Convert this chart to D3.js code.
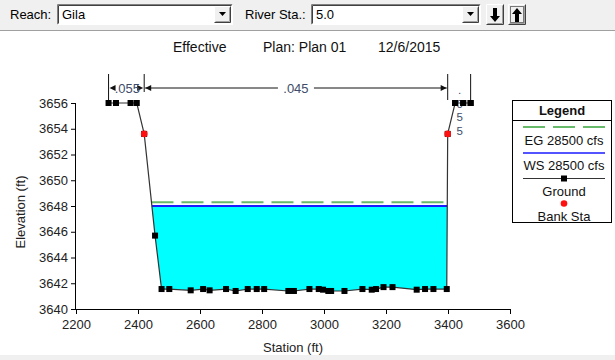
<!DOCTYPE html>
<html><head><meta charset="utf-8">
<script src="https://cdn.jsdelivr.net/npm/d3@7"></script>
<style>
body{margin:0;background:#fff;}
svg{display:block;font-family:"Liberation Sans",Arial,sans-serif;}
</style>
</head><body>
<svg id="c" width="615" height="360"></svg>
<script>
// Cross-section ground survey (station ft, elevation ft)
const groundSta = [2305, 2329, 2376, 2396, 2420, 2455, 2476, 2501, 2570, 2610, 2631, 2684, 2715, 2754, 2783, 2807,
  2885, 2903, 2953, 2983, 2997, 3014, 3023, 3066, 3124, 3154, 3168, 3192, 3221, 3299, 3326, 3353, 3396, 3399, 3423, 3449, 3473];
const groundElev = [3656, 3656, 3656, 3656, 3653.6, 3645.7, 3641.55, 3641.55, 3641.45, 3641.55, 3641.45, 3641.55, 3641.4, 3641.55, 3641.55, 3641.55,
  3641.4, 3641.4, 3641.55, 3641.55, 3641.5, 3641.4, 3641.4, 3641.4, 3641.55, 3641.5, 3641.55, 3641.7, 3641.7, 3641.5, 3641.55, 3641.55, 3641.55, 3653.6, 3656, 3656, 3656];
const bankSta = [2420, 3399];
const bankElev = [3653.6, 3653.6];
const wsElev = 3648.0;
const egElev = 3648.3;
const nBreaks = [2305, 2420, 3399, 3473];
const nValues = [".055", ".045", ".055"];
const xTicks = d3.range(2200, 3601, 200);
const xMinor = d3.range(2200, 3601, 50);
const yTicks = d3.range(3640, 3657, 2);
const yMinor = d3.range(3640, 3656.01, 0.5);
const legendLabels = ["EG 28500 cfs", "WS 28500 cfs", "Ground", "Bank Sta"];
const titleParts = ["Effective", "Plan: Plan 01", "12/6/2015"];

const svg = d3.select("#c");
const x = d3.scaleLinear().domain([2200, 3600]).range([76, 510]);
const y = d3.scaleLinear().domain([3640, 3656]).range([309, 103]);

// ---------- window chrome / toolbar ----------
svg.append("rect").attr("x", 0).attr("y", 0).attr("width", 615).attr("height", 30).attr("fill", "#f0f0f0");
svg.append("line").attr("x1", 0).attr("x2", 615).attr("y1", 30.5).attr("y2", 30.5).attr("stroke", "#a0a0a0");
svg.append("rect").attr("x", 0).attr("y", 355).attr("width", 615).attr("height", 5).attr("fill", "#f0f0f0");

function button(bx, by, bw, bh) {
  svg.append("rect").attr("x", bx).attr("y", by).attr("width", bw).attr("height", bh).attr("fill", "#f0f0f0");
  svg.append("path").attr("d", `M${bx + 0.5},${by + bh - 0.5}V${by + 0.5}H${bx + bw - 0.5}`).attr("stroke", "#fff").attr("fill", "none");
  svg.append("path").attr("d", `M${bx + 0.5},${by + bh - 0.5}H${bx + bw - 0.5}V${by + 0.5}`).attr("stroke", "#404040").attr("fill", "none");
  svg.append("path").attr("d", `M${bx + 1.5},${by + bh - 1.5}H${bx + bw - 1.5}V${by + 1.5}`).attr("stroke", "#a0a0a0").attr("fill", "none");
}
function combo(x0, w, label) {
  svg.append("rect").attr("x", x0).attr("y", 4).attr("width", w).attr("height", 21).attr("fill", "#fff");
  svg.append("path").attr("d", `M${x0 + 0.5},${24.5}V${4.5}H${x0 + w - 0.5}`).attr("stroke", "#808080").attr("fill", "none");
  svg.append("path").attr("d", `M${x0 + 1.5},${23.5}V${5.5}H${x0 + w - 1.5}`).attr("stroke", "#404040").attr("fill", "none");
  svg.append("path").attr("d", `M${x0 + 0.5},${24.5}H${x0 + w - 0.5}V${4.5}`).attr("stroke", "#fff").attr("fill", "none");
  svg.append("text").attr("x", x0 + 5).attr("y", 19).attr("font-size", 13).attr("fill", "#000").text(label);
  // drop-down button
  const bx = x0 + w - 19;
  button(bx, 6, 17, 17);
  svg.append("path").attr("d", `M${bx + 5},${12}h7l-3.5,4z`).attr("fill", "#000");
}
svg.append("text").attr("x", 10).attr("y", 19).attr("font-size", 13).attr("fill", "#000").text("Reach:");
combo(57, 176, "Gila");
svg.append("text").attr("x", 245).attr("y", 19).attr("font-size", 13).attr("fill", "#000").text("River Sta.:");
combo(311, 170, "5.0");
// down / up cross-section buttons
button(486, 4, 18, 21);
svg.append("path").attr("d", "M493,8h4v8h3l-5,6l-5,-6h3z").attr("fill", "#000");
button(508, 4, 18, 21);
svg.append("rect").attr("x", 510.5).attr("y", 6.5).attr("width", 13).attr("height", 16).attr("fill", "none")
  .attr("stroke", "#000").attr("stroke-dasharray", "1,1");
svg.append("path").attr("d", "M517,8l5,6h-3v8h-4v-8h-3z").attr("fill", "#000");

// ---------- title ----------
const titleX = [173, 263, 378];
titleParts.forEach((t, i) => svg.append("text").attr("x", titleX[i]).attr("y", 52)
  .attr("font-size", 14).attr("fill", "#111").text(t));

// ---------- water area ----------
const ground = groundSta.map((s, i) => ({s, e: groundElev[i]}));
function crossings(level) {
  // first downward crossing and last upward crossing of a level
  let left = null, right = null, li = -1, ri = -1;
  for (let i = 0; i < ground.length - 1; i++) {
    const a = ground[i], b = ground[i + 1];
    if (left === null && a.e >= level && b.e < level) {
      left = a.s + (b.s - a.s) * (a.e - level) / (a.e - b.e); li = i + 1;
    }
    if (a.e < level && b.e >= level) {
      right = a.s + (b.s - a.s) * (level - a.e) / (b.e - a.e); ri = i;
    }
  }
  return {left, right, li, ri};
}
const ws = crossings(wsElev);
const waterPts = [[ws.left, wsElev]].concat(ground.slice(ws.li, ws.ri + 1).map(d => [d.s, d.e]), [[ws.right, wsElev]]);
svg.append("path").attr("d", d3.line().x(d => x(d[0])).y(d => y(d[1]))(waterPts) + "Z").attr("fill", "#00ffff");
const eg = crossings(egElev);
svg.append("line").attr("x1", x(eg.left)).attr("x2", x(eg.right)).attr("y1", y(egElev)).attr("y2", y(egElev))
  .attr("stroke", "#4caf50").attr("stroke-width", 2).attr("stroke-dasharray", "22,8").attr("opacity", 0.85);
svg.append("line").attr("x1", x(ws.left)).attr("x2", x(ws.right)).attr("y1", y(wsElev)).attr("y2", y(wsElev))
  .attr("stroke", "#1a1aff").attr("stroke-width", 2);

// ---------- ground ----------
svg.append("path").attr("d", d3.line().x(d => x(d.s)).y(d => y(d.e))(ground))
  .attr("fill", "none").attr("stroke", "#333").attr("stroke-width", 1.2);
svg.selectAll("rect.gp").data(ground).join("rect").attr("class", "gp")
  .attr("x", d => x(d.s) - 3).attr("y", d => y(d.e) - 3).attr("width", 6).attr("height", 6).attr("fill", "#000");
svg.selectAll("circle.bank").data(bankSta).join("circle").attr("class", "bank")
  .attr("cx", d => x(d)).attr("cy", (d, i) => y(bankElev[i])).attr("r", 3.3).attr("fill", "#ff1010");

// ---------- Manning's n regions ----------
const nColor = "#3e4c6a";
nBreaks.forEach((s, i) => {
  const bottom = (i === 1) ? 92 : 100;
  svg.append("line").attr("x1", x(s)).attr("x2", x(s)).attr("y1", 74).attr("y2", bottom).attr("stroke", "#111");
});
function arrowHead(xp, dir) {
  svg.append("path").attr("d", `M${xp},88l${-6 * dir},-3v6z`).attr("fill", "#111");
}
// left region (.055): short arrows around the label
{
  const a = x(nBreaks[0]) + 1, b = x(nBreaks[1]) - 1;
  arrowHead(a, -1); arrowHead(b, 1);
  svg.append("text").attr("x", (a + b) / 2 + 1).attr("y", 92.5).attr("text-anchor", "middle")
    .attr("font-size", 13).attr("fill", nColor).text(nValues[0]);
}
// channel (.045)
{
  const a = x(nBreaks[1]) + 1, b = x(nBreaks[2]) - 1, m = (a + b) / 2;
  svg.append("line").attr("x1", a).attr("x2", m - 18).attr("y1", 88).attr("y2", 88).attr("stroke", "#111");
  svg.append("line").attr("x1", m + 18).attr("x2", b).attr("y1", 88).attr("y2", 88).attr("stroke", "#111");
  arrowHead(a, -1); arrowHead(b, 1);
  svg.append("text").attr("x", m).attr("y", 92.5).attr("text-anchor", "middle")
    .attr("font-size", 13).attr("fill", nColor).text(nValues[1]);
}
// right region (.055): too narrow, written vertically one character per line
{
  const cx = (x(nBreaks[2]) + x(nBreaks[3])) / 2 + 0.5;
  const vt = svg.append("text").attr("x", cx).attr("y", 94).attr("text-anchor", "middle")
    .attr("font-size", 11.5).attr("fill", nColor);
  nValues[2].split("").forEach((ch, k) => vt.append("tspan").attr("x", cx).attr("dy", k === 0 ? 0 : 13.5).text(ch));
}
// top-right ground markers sit above the vertical label
svg.selectAll("rect.gp2").data(ground.filter(d => d.s > 3400)).join("rect").attr("class", "gp2")
  .attr("x", d => x(d.s) - 3).attr("y", d => y(d.e) - 3).attr("width", 6).attr("height", 6).attr("fill", "#000");

// ---------- axes ----------
const axisColor = "#000";
const gx = svg.append("g").attr("transform", `translate(0,${y(3640)})`);
gx.call(d3.axisBottom(x).tickValues(xMinor).tickSize(3).tickFormat(""));
gx.call(d3.axisBottom(x).tickValues(xTicks).tickSize(5).tickFormat(d3.format("d")));
gx.select(".domain").attr("d", `M${x(2200)},0.5H${x(3600)}`);
const gy = svg.append("g").attr("transform", `translate(${x(2200)},0)`);
gy.call(d3.axisLeft(y).tickValues(yMinor).tickSize(3).tickFormat(""));
gy.call(d3.axisLeft(y).tickValues(yTicks).tickSize(5).tickFormat(d3.format("d")));
gy.select(".domain").attr("d", `M-0.5,${y(3656)}V${y(3640)}`);
svg.selectAll(".tick line, .domain").attr("stroke", axisColor);
gx.selectAll(".tick text").attr("font-size", 13).attr("fill", "#222").attr("dy", "0.9em");
gy.selectAll(".tick text").attr("font-size", 13).attr("fill", "#222");
svg.selectAll("g").attr("font-family", null);

svg.append("text").attr("x", 293).attr("y", 352).attr("text-anchor", "middle").attr("font-size", 13)
  .attr("fill", "#222").text("Station (ft)");
svg.append("text").attr("transform", "translate(25,212) rotate(-90)").attr("text-anchor", "middle")
  .attr("font-size", 13).attr("fill", "#222").text("Elevation (ft)");

// ---------- legend ----------
const lg = svg.append("g");
lg.append("rect").attr("x", 512.5).attr("y", 100.5).attr("width", 99).attr("height", 122).attr("fill", "#fff").attr("stroke", "#000");
lg.append("line").attr("x1", 512).attr("x2", 612).attr("y1", 120.5).attr("y2", 120.5).attr("stroke", "#000");
lg.append("text").attr("x", 562).attr("y", 115).attr("text-anchor", "middle").attr("font-size", 13)
  .attr("font-weight", "bold").attr("fill", "#111").text("Legend");
const lx0 = 523, lx1 = 605, lmid = 564;
lg.append("line").attr("x1", lx0).attr("x2", lx1).attr("y1", 127).attr("y2", 127)
  .attr("stroke", "#4caf50").attr("stroke-width", 2).attr("stroke-dasharray", "22,8").attr("opacity", 0.85);
lg.append("line").attr("x1", lx0).attr("x2", lx1).attr("y1", 153).attr("y2", 153).attr("stroke", "#1a1aff").attr("stroke-width", 1.5);
lg.append("line").attr("x1", lx0).attr("x2", lx1).attr("y1", 178.5).attr("y2", 178.5).attr("stroke", "#333").attr("stroke-width", 1.2);
lg.append("rect").attr("x", lmid - 3).attr("y", 175.5).attr("width", 6).attr("height", 6).attr("fill", "#000");
lg.append("circle").attr("cx", lmid).attr("cy", 203.5).attr("r", 3.3).attr("fill", "#ff1010");
const legendY = [144.5, 170, 196, 221];
legendLabels.forEach((t, i) => lg.append("text").attr("x", lmid).attr("y", legendY[i]).attr("text-anchor", "middle")
  .attr("font-size", 13).attr("fill", "#111").text(t));
</script>
</body></html>
